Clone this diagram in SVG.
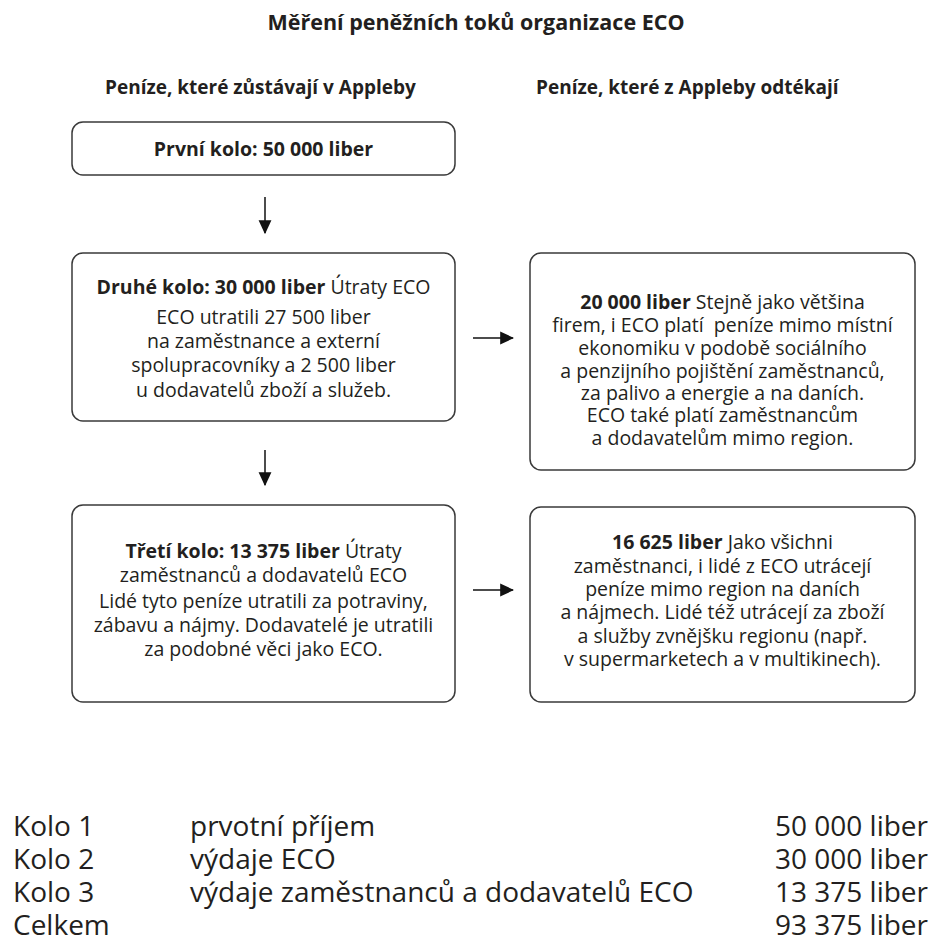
<svg xmlns="http://www.w3.org/2000/svg" width="934" height="944" viewBox="0 0 934 944">
<style>
text{font-family:"Open Sans","Noto Sans","Liberation Sans",sans-serif;fill:#231f20}
.title{font-size:21.5px;font-weight:700}
.hdr{font-size:19px;font-weight:700}
.bt{font-size:19.5px;text-anchor:middle}
.b{font-weight:700}
.box{fill:#fff;stroke:#3a3a3a;stroke-width:1.5}
.conn line{stroke:#111;stroke-width:1.5}
.tbl{font-size:28px}
.r{text-anchor:end}
</style>
<defs>
<marker id="ah" markerUnits="userSpaceOnUse" markerWidth="14" markerHeight="14" viewBox="0 0 12 12" refX="11" refY="6" orient="auto">
<path d="M0,0.5 L12,6 L0,11.5 Z" fill="#111"/>
</marker>
</defs>
<rect width="934" height="944" fill="#fff"/>
<text class="title" x="476" y="30" text-anchor="middle">Měření peněžních toků organizace ECO</text>
<text class="hdr" x="105" y="94">Peníze, které zůstávají v Appleby</text>
<text class="hdr" x="536" y="94">Peníze, které z Appleby odtékají</text>

<g id="kolo1">
<rect class="box" x="72" y="122" width="383" height="53" rx="11"/>
<text class="bt b" x="263.5" y="155.5">První kolo: 50 000 liber</text>
</g>

<g id="kolo2">
<rect class="box" x="72" y="253" width="383" height="168" rx="11"/>
<text class="bt"><tspan x="263.5" y="294"><tspan class="b">Druhé kolo: 30 000 liber</tspan> Útraty ECO</tspan><tspan x="263.5" y="324">ECO utratili 27 500 liber</tspan><tspan x="263.5" y="348">na zaměstnance a externí</tspan><tspan x="263.5" y="372">spolupracovníky a 2 500 liber</tspan><tspan x="263.5" y="397">u dodavatelů zboží a služeb.</tspan></text>
</g>

<g id="odtok1">
<rect class="box" x="530" y="253" width="385" height="217" rx="11"/>
<text class="bt"><tspan x="722.5" y="309"><tspan class="b">20 000 liber</tspan> Stejně jako většina</tspan><tspan x="722.5" y="332">firem, i ECO platí&#160; peníze mimo místní</tspan><tspan x="722.5" y="355">ekonomiku v podobě sociálního</tspan><tspan x="722.5" y="378">a penzijního pojištění zaměstnanců,</tspan><tspan x="722.5" y="400">za palivo a energie a na daních.</tspan><tspan x="722.5" y="422">ECO také platí zaměstnancům</tspan><tspan x="722.5" y="445">a dodavatelům mimo region.</tspan></text>
</g>

<g id="kolo3">
<rect class="box" x="72" y="505" width="383" height="197" rx="11"/>
<text class="bt"><tspan x="263.5" y="558"><tspan class="b">Třetí kolo: 13 375 liber</tspan> Útraty</tspan><tspan x="263.5" y="582">zaměstnanců a dodavatelů ECO</tspan><tspan x="263.5" y="608">Lidé tyto peníze utratili za potraviny,</tspan><tspan x="263.5" y="632">zábavu a nájmy. Dodavatelé je utratili</tspan><tspan x="263.5" y="656">za podobné věci jako ECO.</tspan></text>
</g>

<g id="odtok2">
<rect class="box" x="530" y="507" width="385" height="195" rx="11"/>
<text class="bt"><tspan x="722.5" y="549"><tspan class="b">16 625 liber</tspan> Jako všichni</tspan><tspan x="722.5" y="573">zaměstnanci, i lidé z ECO utrácejí</tspan><tspan x="722.5" y="596">peníze mimo region na daních</tspan><tspan x="722.5" y="619">a nájmech. Lidé též utrácejí za zboží</tspan><tspan x="722.5" y="643">a služby zvnějšku regionu (např.</tspan><tspan x="722.5" y="666">v supermarketech a v multikinech).</tspan></text>
</g>

<g id="connectors" class="conn">
<line x1="265" y1="197" x2="265" y2="233" marker-end="url(#ah)"/>
<line x1="265" y1="450" x2="265" y2="485" marker-end="url(#ah)"/>
<line x1="473" y1="338" x2="513" y2="338" marker-end="url(#ah)"/>
<line x1="473" y1="590" x2="513" y2="590" marker-end="url(#ah)"/>
</g>

<g id="souhrn" class="tbl">
<text><tspan x="13" y="836">Kolo 1</tspan><tspan x="13" y="869">Kolo 2</tspan><tspan x="13" y="902">Kolo 3</tspan><tspan x="13" y="935">Celkem</tspan></text>
<text><tspan x="190" y="836">prvotní příjem</tspan><tspan x="190" y="869">výdaje ECO</tspan><tspan x="190" y="902">výdaje zaměstnanců a dodavatelů ECO</tspan></text>
<text class="r"><tspan x="928" y="836">50 000 liber</tspan><tspan x="928" y="869">30 000 liber</tspan><tspan x="928" y="902">13 375 liber</tspan><tspan x="928" y="935">93 375 liber</tspan></text>
</g>
</svg>
